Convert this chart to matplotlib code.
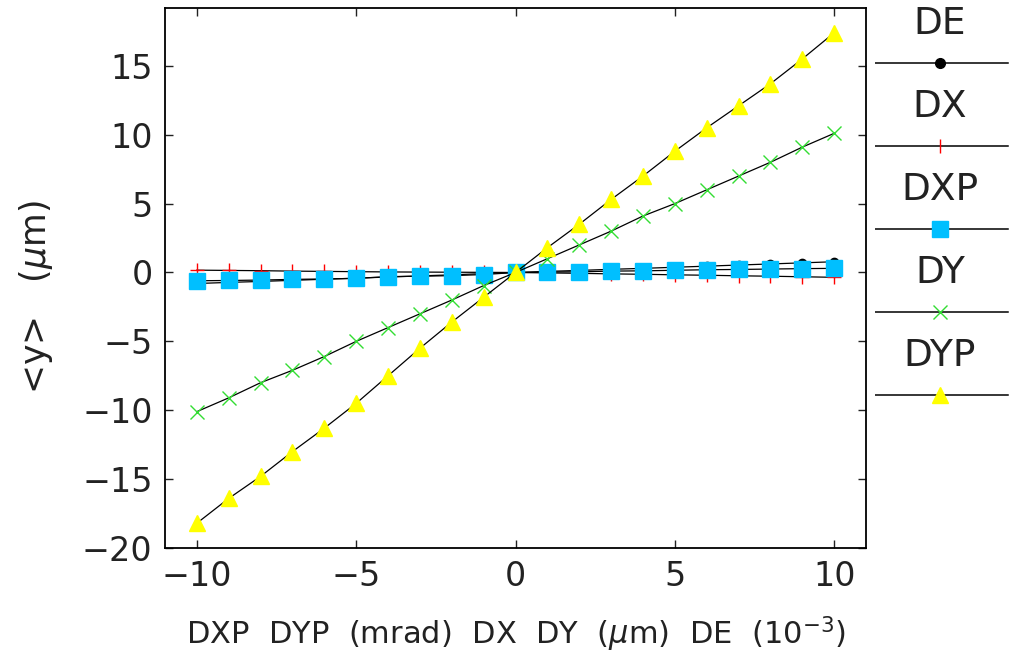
import matplotlib
matplotlib.use("Agg")
import matplotlib.pyplot as plt

# scan offsets
x_vals = [-10, -9, -8, -7, -6, -5, -4, -3, -2, -1, 0, 1, 2, 3, 4, 5, 6, 7, 8, 9, 10]

names = ["DE", "DX", "DXP", "DY", "DYP"]
de = [-0.8, -0.72, -0.65, -0.57, -0.49, -0.41, -0.33, -0.25, -0.17, -0.08, 0.0,
      0.08, 0.15, 0.23, 0.3, 0.38, 0.46, 0.54, 0.62, 0.7, 0.78]
dx = [0.17, 0.15, 0.13, 0.1, 0.08, 0.06, 0.04, 0.03, 0.02, 0.01, 0.0,
      -0.03, -0.06, -0.1, -0.13, -0.17, -0.2, -0.24, -0.27, -0.31, -0.35]
dxp = [-0.6, -0.58, -0.55, -0.5, -0.47, -0.43, -0.3, -0.27, -0.23, -0.15, 0.0,
       0.03, 0.05, 0.1, 0.12, 0.16, 0.2, 0.22, 0.25, 0.28, 0.3]
dy = [-10.1, -9.1, -8.0, -7.1, -6.1, -5.0, -4.0, -3.0, -2.0, -0.95, 0.0,
      1.0, 2.0, 3.0, 4.1, 5.0, 6.0, 7.0, 8.0, 9.1, 10.1]
dyp = [-18.2, -16.4, -14.8, -13.0, -11.3, -9.5, -7.5, -5.5, -3.6, -1.8, 0.0,
       1.8, 3.5, 5.3, 7.0, 8.8, 10.5, 12.1, 13.7, 15.5, 17.4]
series = [de, dx, dxp, dy, dyp]

markers = ["o", "+", "s", "x", "^"]
colors = ["black", "red", "#00bfff", "#33dd33", "#ffff00"]
msizes = [6, 10, 11.5, 10, 12]

fig = plt.figure(figsize=(10.13, 6.55), dpi=100)
ax = fig.add_axes([165 / 1013, 107 / 655, 701 / 1013, 540 / 655])

for name, ys, m, c, s in zip(names, series, markers, colors, msizes):
    ax.plot(x_vals, ys, color="black", lw=0.9)
    ax.plot(x_vals, ys, linestyle="none", marker=m, color=c, ms=s, mew=1.0)

ax.set_xlim(-11, 11)
ax.set_ylim(-20, 19.2)
ax.set_xticks([-10, -5, 0, 5, 10])
ax.set_yticks([-20, -15, -10, -5, 0, 5, 10, 15])
ax.tick_params(direction="in", length=6, width=1, top=True, right=True,
               labelsize=24, pad=9, colors="#222222")
for sp in ax.spines.values():
    sp.set_linewidth(1.3)

ax.set_xlabel(r"DXP  DYP  (mrad)  DX  DY  ($\mu$m)  DE  ($10^{-3}$)", fontsize=22,
              labelpad=15, color="#222222")
ax.set_ylabel(r"<y>   ($\mu$m)", fontsize=25, color="#222222")
ax.yaxis.set_label_coords(-0.157, 0.465)

# legend column on the right
lg = fig.add_axes([875 / 1013, 0, 138 / 1013, 1])
lg.set_xlim(875, 1013)
lg.set_ylim(655, 0)
lg.axis("off")
for i, (name, m, c, s) in enumerate(zip(names, markers, colors, msizes)):
    yl = 63 + i * 83
    lg.plot([875, 1008], [yl, yl], color="black", lw=1.1)
    lg.plot([940], [yl], marker=m if m != "+" else "|", color=c,
            ms=s + 1 if m == "o" else s, mew=1.0)
    lg.text(940, yl - 39, name, ha="center", va="center", fontsize=27,
            color="#222222")

fig.savefig("out.png", dpi=100)
